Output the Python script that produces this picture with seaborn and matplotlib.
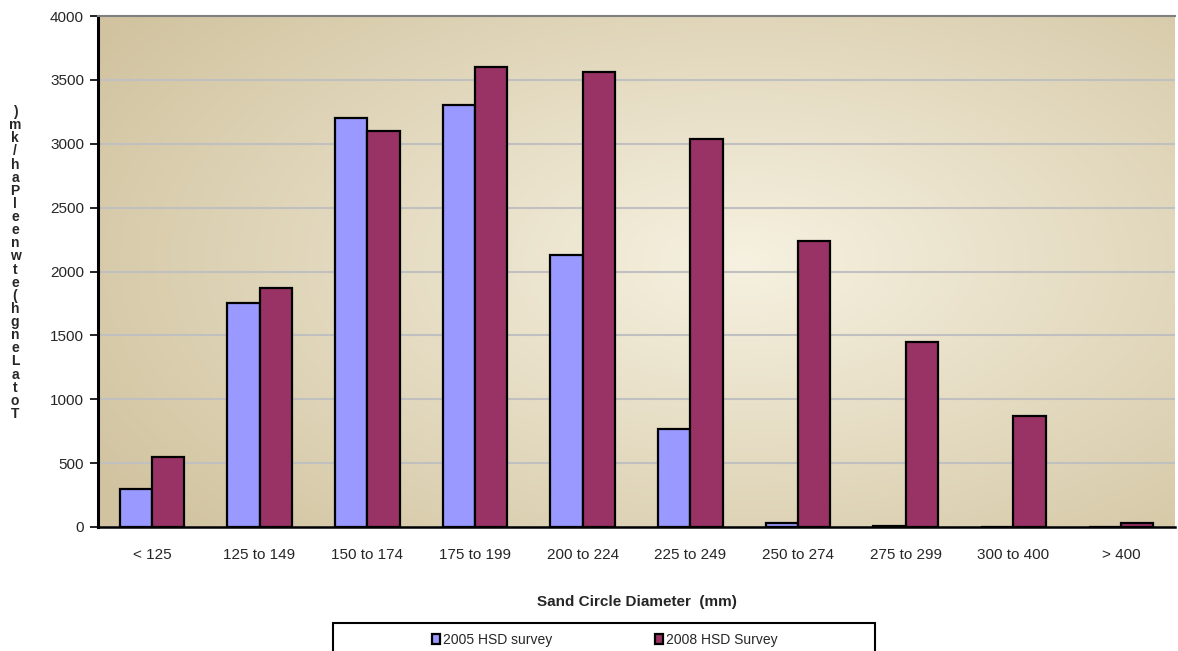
import numpy as np
import pandas as pd
import matplotlib
matplotlib.use("Agg")
import matplotlib.pyplot as plt
import matplotlib.patches as mpatches
import seaborn as sns

# Sand circle size classes and densities for the two surveys
size_classes = ["< 125", "125 to 149", "150 to 174", "175 to 199", "200 to 224",
                "225 to 249", "250 to 274", "275 to 299", "300 to 400", "> 400"]
survey_2005 = [300, 1750, 3200, 3300, 2130, 770, 30, 5, 0, 0]
survey_2008 = [550, 1870, 3100, 3600, 3560, 3040, 2240, 1450, 870, 30]
series_names = ["2005 HSD survey", "2008 HSD Survey"]
series_colors = ["#9999ff", "#993366"]
y_ticks = list(range(0, 4001, 500))
y_label_chars = [")", "m", "k", "/", "h", "a", "P", "l", "e", "e", "n", "w",
                 "t", "e", "(", "h", "g", "n", "e", "L", "a", "t", "o", "T"]

df = pd.DataFrame({
    "size": size_classes * 2,
    "value": survey_2005 + survey_2008,
    "survey": [series_names[0]] * len(size_classes) + [series_names[1]] * len(size_classes),
})

sns.set_theme(style="white")
plt.rcParams["font.family"] = ["Liberation Sans", "DejaVu Sans"]

W, H = 1178, 651
fig = plt.figure(figsize=(W / 100, H / 100), dpi=100)
ax = fig.add_axes([98 / W, (H - 527) / H, 1077 / W, 511 / H])

# beige radial gradient in the plot area
gx, gy = np.meshgrid(np.linspace(0, 1, 400), np.linspace(0, 1, 300))
r = np.sqrt(((gx - 0.6) / 0.72) ** 2 + ((gy - 0.48) / 0.8) ** 2)
r = np.clip(r, 0, 1)
light = np.array([0.965, 0.945, 0.88])
dark = np.array([0.82, 0.765, 0.625])
img = light[None, None, :] * (1 - r[..., None]) + dark[None, None, :] * r[..., None]
ax.imshow(img, extent=[0, 1, 0, 1], transform=ax.transAxes, aspect="auto",
          zorder=0, origin="upper", interpolation="bilinear")

sns.barplot(data=df, x="size", y="value", hue="survey", palette=series_colors,
            edgecolor="black", linewidth=1.6, width=0.6, saturation=1,
            ax=ax, legend=True, zorder=3)

ax.set_xlim(-0.5, len(size_classes) - 0.5)
ax.set_ylim(0, 4000)
ax.set_yticks(y_ticks)
ax.set_yticklabels([str(v) for v in y_ticks], fontsize=11)
ax.yaxis.grid(True, color="#c0c0c0", linewidth=1.5, zorder=1)
ax.set_axisbelow(True)

ax.set_xticks(range(len(size_classes)))
ax.set_xticklabels(size_classes, fontsize=11)
ax.set_xticks(np.arange(-0.5, len(size_classes), 1), minor=True)
ax.tick_params(axis="x", which="major", length=0, pad=15)
ax.tick_params(axis="x", which="minor", length=6, width=1.2, color="black", direction="out")
ax.tick_params(axis="y", length=6, width=1.2, color="black", direction="out", left=True, pad=4)

ax.set_xlabel("Sand Circle Diameter  (mm)", fontsize=11, fontweight="bold", labelpad=24)
ax.set_ylabel("")

ax.spines["right"].set_visible(False)
ax.spines["top"].set_color("#808080")
ax.spines["top"].set_linewidth(1.5)
ax.spines["left"].set_color("black")
ax.spines["left"].set_linewidth(2.2)
ax.spines["bottom"].set_color("black")
ax.spines["bottom"].set_linewidth(1.8)

# stacked vertical axis title
fig.text(15 / W, (H - 263) / H, "\n".join(y_label_chars), fontsize=10, fontweight="bold",
         ha="center", va="center", linespacing=0.92)

# legend in a wide box at the bottom
handles, labels = ax.get_legend_handles_labels()
ax.get_legend().remove()
leg = fig.legend(handles, labels, loc="center left", bbox_to_anchor=(425 / W, (H - 640) / H),
                 ncol=2, frameon=False, fontsize=10, handlelength=0.6, handleheight=0.8,
                 handletextpad=0.2, columnspacing=7.4, borderpad=0)
fig.patches.append(mpatches.Rectangle((333 / W, -0.02), (875 - 333) / W, (H - 623) / H + 0.02,
                                      transform=fig.transFigure, fill=False,
                                      edgecolor="black", linewidth=1.5))

fig.savefig("out.png", dpi=100)
